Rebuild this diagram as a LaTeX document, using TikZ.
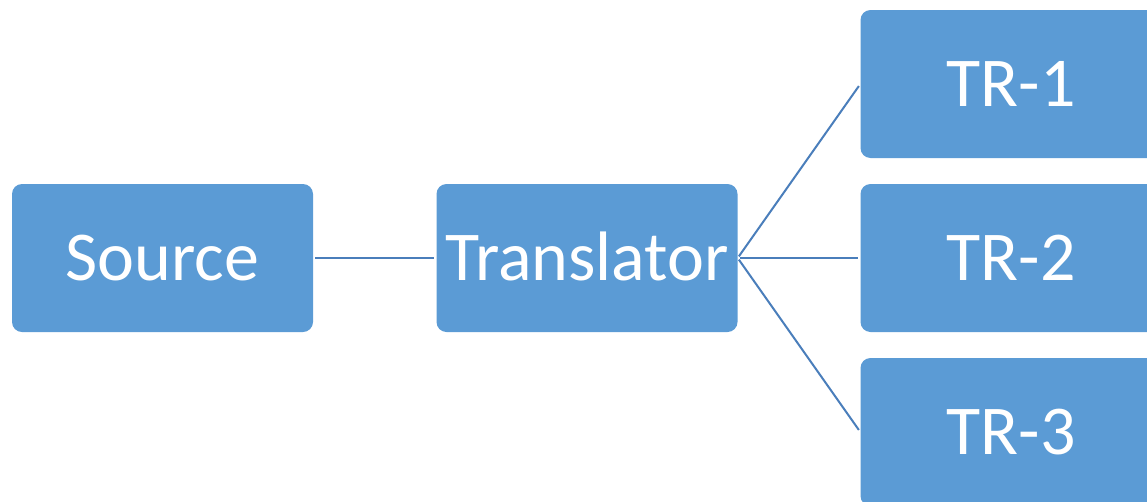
\documentclass[tikz,border=0pt]{standalone}
\usepackage{fontspec}
\setmainfont{Carlito}
\definecolor{boxfill}{HTML}{5B9BD5}
\definecolor{linecol}{HTML}{4A7EBB}
\begin{document}
\begin{tikzpicture}[x=1pt,y=-1pt,
  blk/.style={fill=boxfill, draw=none, rounded corners=10pt, minimum width=301pt, minimum height=148pt,
    inner sep=0pt, text=white, font=\fontsize{70}{82}\selectfont, text height=45pt, text depth=0pt},
  conn/.style={draw=linecol, line width=2pt, shorten >=2.5pt, shorten <=2pt}]
\useasboundingbox (0,0) rectangle (1147,501);
\node[blk] (src) at (162.5,258) {Source};
\node[blk] (tr) at (587,258) {Translator};
\node[blk] (t1) at (1011,84) {TR-1};
\node[blk] (t2) at (1011,258) {TR-2};
\node[blk] (t3) at (1011,432) {TR-3};
\draw[conn] (src.east) -- (tr.west);
\draw[conn] (tr.east) -- (t1.west);
\draw[conn] (tr.east) -- (t2.west);
\draw[conn] (tr.east) -- (t3.west);
\end{tikzpicture}
\end{document}
